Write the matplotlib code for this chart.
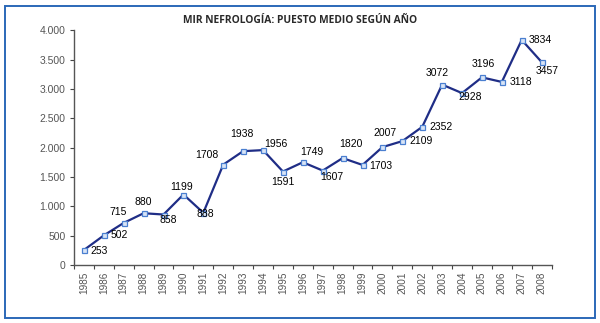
import matplotlib.pyplot as plt
from matplotlib.patches import Rectangle
from matplotlib.ticker import FuncFormatter, FixedLocator

years = list(range(1985, 2009))
puesto = [253, 502, 715, 880, 858, 1199, 888, 1708, 1938, 1956, 1591, 1749,
          1607, 1820, 1703, 2007, 2109, 2352, 3072, 2928, 3196, 3118, 3834, 3457]

# label centre offset from its marker, in pixels (x right, y up)
label_off = [(15.5, -1), (15, 0), (-5.5, 10.7), (0, 11.6), (4.5, -5.3), (-1.7, 7.8),
             (1.5, -1), (-16.5, 10), (-1, 17), (12.5, 6.6), (0, -10), (9, 10),
             (9, -6.6), (8, 14), (18.5, -0.7), (2.7, 14), (19, 0), (19, 0),
             (-4.7, 11.7), (8, -4.3), (1.3, 13.3), (18.7, 0), (18, 0), (5.3, -9)]

LINE = "#1f2d86"
MARK = "#4a7fd0"
TICK = "#555555"

fig = plt.figure(figsize=(6.0, 3.23), dpi=100)
fig.patches.append(Rectangle((0.008, 0.016), 0.984, 0.966, transform=fig.transFigure,
                             fill=False, edgecolor="#2b68b8", lw=1.4))
ax = fig.add_axes([0.1233, 0.180, 0.796, 0.7265])

x = list(range(len(years)))
ax.plot(x, puesto, color=LINE, lw=1.6, marker="s", ms=3.6, mfc="#d8e4f6",
        mec=MARK, mew=0.9, zorder=3)
for xi, v, off in zip(x, puesto, label_off):
    ax.annotate(str(v), (xi, v), textcoords="offset pixels", xytext=off,
                ha="center", va="center", fontsize=7.5, family="Liberation Sans",
                color="black")

ax.set_xlim(-0.5, len(years) - 0.5)
ax.set_ylim(0, 4000)
ax.set_yticks(range(0, 4001, 500))
ax.yaxis.set_major_formatter(FuncFormatter(lambda v, p: f"{int(v):,}".replace(",", ".")))
ax.set_xticks(x)
ax.set_xticklabels([str(y) for y in years], rotation=90)
ax.xaxis.set_minor_locator(FixedLocator([i - 0.5 for i in range(len(years) + 1)]))
ax.tick_params(axis="x", which="major", length=0, pad=5, labelsize=7.2, labelcolor=TICK)
ax.tick_params(axis="x", which="minor", length=3, width=0.8, color="#444444")
ax.tick_params(axis="y", length=3, width=0.8, color="#444444", labelsize=7.5,
               labelcolor=TICK, pad=3)
for lab in ax.get_xticklabels() + ax.get_yticklabels():
    lab.set_family("Liberation Sans")

for s in ("top", "right"):
    ax.spines[s].set_visible(False)
for s in ("left", "bottom"):
    ax.spines[s].set_color("#555555")
    ax.spines[s].set_linewidth(1.0)

fig.text(0.5, 0.938, "MIR NEFROLOGÍA: PUESTO MEDIO SEGÚN AÑO", ha="center", va="center",
         fontsize=7.4, fontweight="bold", family="Open Sans", color="#2a2a2a")

fig.savefig("out.png", dpi=100)
